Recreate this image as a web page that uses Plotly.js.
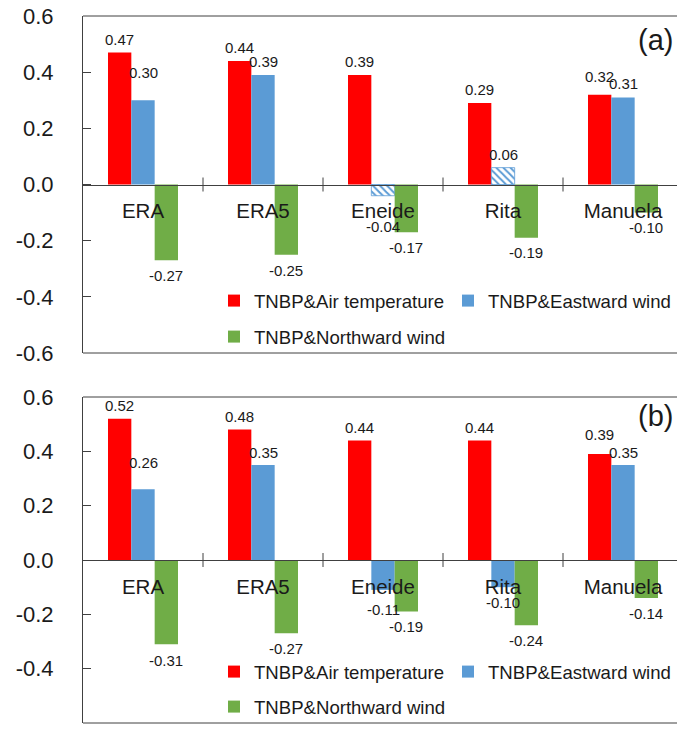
<!DOCTYPE html>
<html><head><meta charset="utf-8">
<script src="https://cdn.plot.ly/plotly-3.0.1.min.js"></script>
<style>html,body{margin:0;padding:0;background:#fff;overflow:hidden}#chart{width:677px;height:735px}</style>
</head><body><div id="chart"></div>
<script>
// ---------- data ----------
const categories = ['ERA', 'ERA5', 'Eneide', 'Rita', 'Manuela'];
const seriesNames = ['TNBP&Air temperature', 'TNBP&Eastward wind', 'TNBP&Northward wind'];
const aAirTemp   = [0.47, 0.44, 0.39, 0.29, 0.32];
const aEastWind  = [0.30, 0.39, -0.04, 0.06, 0.31];
const aNorthWind = [-0.27, -0.25, -0.17, -0.19, -0.10];
const aEastHatched = [false, false, true, true, false];
const bAirTemp   = [0.52, 0.48, 0.44, 0.44, 0.39];
const bEastWind  = [0.26, 0.35, -0.11, -0.10, 0.35];
const bNorthWind = [-0.31, -0.27, -0.19, -0.24, -0.14];
const yTickVals = [-0.6, -0.4, -0.2, 0, 0.2, 0.4, 0.6];
const yTickText = ['-0.6', '-0.4', '-0.2', '0.0', '0.2', '0.4', '0.6'];
const panelLabels = ['(a)', '(b)'];

// ---------- style / layout ----------
const W = 677, H = 735, L = 83, CAT_PX = 120;
const PW = W - L;
const FONT = 'Liberation Sans, Arial, sans-serif';
const colors = ['#FF0000', '#5B9BD5', '#70AD47'];
const lineCol = '#404040';
const bargap = 1 - 70 / 120;
const barW = (1 - bargap) / 3;
const xMax = -0.5 + PW / CAT_PX;
const yRange = [-0.6, 0.6];
const LEG_TEXT_OFFSET = 39;

const panels = [
  { series: [aAirTemp, aEastWind, aNorthWind], hatch: aEastHatched,
    top: 16, bottom: 353, lab: { x: 652, y: 40 }, legRows: [301, 337],
    extra: [[0, 0, 0, 0, 5], [14, 0, 16, 0, 0], [0, 1, 0, 0, 0]] },
  { series: [bAirTemp, bEastWind, bNorthWind], hatch: null,
    top: 397, bottom: 723, lab: { x: 652, y: 416 }, legRows: [672, 707],
    extra: [[0, 0, -1, -1, 6], [13, -1, 5, 0, -1], [1, 0, 0, 0, 0]] }
];
const legendTextLeft = [253, 487, 253];

const data = [];
const annotations = [];
const shapes = [];
const layout = {
  width: W, height: H,
  margin: { l: L, r: 0, t: 0, b: 0, pad: 0 },
  paper_bgcolor: '#fff', plot_bgcolor: '#fff',
  barmode: 'group', bargap: bargap, bargroupgap: 0,
  font: { family: FONT, color: '#1a1a1a' },
  showlegend: true,
  annotations: annotations, shapes: shapes
};

let legendCount = 0;
panels.forEach((p, pi) => {
  const xs = pi === 0 ? '' : '2';
  const xId = 'x' + xs, yId = 'y' + xs;
  const d0 = 1 - p.bottom / H, d1 = 1 - p.top / H;
  const zeroPos = d0 + (0 - yRange[0]) / (yRange[1] - yRange[0]) * (d1 - d0);

  layout['xaxis' + xs] = {
    type: 'category', range: [-0.5, xMax], domain: [0, 1],
    anchor: 'free', position: zeroPos,
    showline: true, linecolor: lineCol, linewidth: 1,
    ticks: '', ticklabelstandoff: 8,
    tickfont: { size: 20.5, family: FONT, color: '#1a1a1a' },
    showgrid: false, zeroline: false, fixedrange: true
  };
  layout['yaxis' + xs] = {
    domain: [d0, d1], range: yRange, anchor: xId,
    tickmode: 'array', tickvals: yTickVals, ticktext: yTickText,
    ticks: 'inside', ticklen: 8, tickcolor: lineCol,
    showline: true, linecolor: lineCol, linewidth: 1,
    ticklabelstandoff: 24,
    tickfont: { size: 22, family: FONT, color: '#1a1a1a' },
    showgrid: false, zeroline: false, fixedrange: true
  };
  // frame: top and bottom lines
  [0, 1].forEach(yy => shapes.push({
    type: 'line', xref: xId + ' domain', yref: yId + ' domain',
    x0: 0, x1: 1, y0: yy, y1: yy, line: { color: lineCol, width: 1 }
  }));
  // category boundary tick marks crossing the zero line
  categories.forEach((c, ci) => shapes.push({
    type: 'line', xref: xId, yref: yId, x0: ci + 0.5, x1: ci + 0.5,
    ysizemode: 'pixel', yanchor: 0, y0: -7, y1: 7,
    line: { color: lineCol, width: 1 }
  }));

  p.series.forEach((vals, si) => {
    legendCount++;
    const legId = legendCount === 1 ? 'legend' : 'legend' + legendCount;
    const hatched = (si === 1 && p.hatch) ? p.hatch : null;
    const marker = { color: colors[si], line: { width: 0 } };
    if (hatched) {
      marker.pattern = {
        shape: hatched.map(h => h ? '\\' : ''),
        fgcolor: colors[si], bgcolor: '#ffffff', size: 5, solidity: 0.4
      };
      marker.line = { color: colors[si], width: hatched.map(h => h ? 0.8 : 0) };
    }
    data.push({
      type: 'bar', x: categories, y: vals, name: seriesNames[si],
      xaxis: xId, yaxis: yId, marker: marker, legend: legId,
      hoverinfo: 'x+y+name'
    });
    const row = si < 2 ? 0 : 1;
    layout[legId] = {
      orientation: 'h', x: (legendTextLeft[si] - LEG_TEXT_OFFSET - L) / PW, xanchor: 'left',
      y: 1 - p.legRows[row] / H, yanchor: 'middle',
      font: { size: 18.6, family: FONT, color: '#1a1a1a' },
      bgcolor: 'rgba(0,0,0,0)', borderwidth: 0
    };
    vals.forEach((v, ci) => {
      const ex = p.extra[si][ci];
      annotations.push({
        xref: xId, yref: yId, x: ci + (si - 1) * barW, y: v,
        text: v.toFixed(2), showarrow: false,
        xanchor: 'center', yanchor: 'middle',
        yshift: v >= 0 ? (13.5 + ex) : -(15 + ex),
        font: { size: 15, family: FONT, color: '#1a1a1a' }
      });
    });
  });

  annotations.push({
    xref: 'paper', yref: 'paper', x: p.lab.x / W, y: 1 - p.lab.y / H,
    xanchor: 'center', yanchor: 'middle', showarrow: false,
    text: panelLabels[pi], font: { size: 29, family: FONT, color: '#1a1a1a' }
  });
});

Plotly.newPlot('chart', data, layout, { displayModeBar: false, staticPlot: true });
</script>
</body></html>
